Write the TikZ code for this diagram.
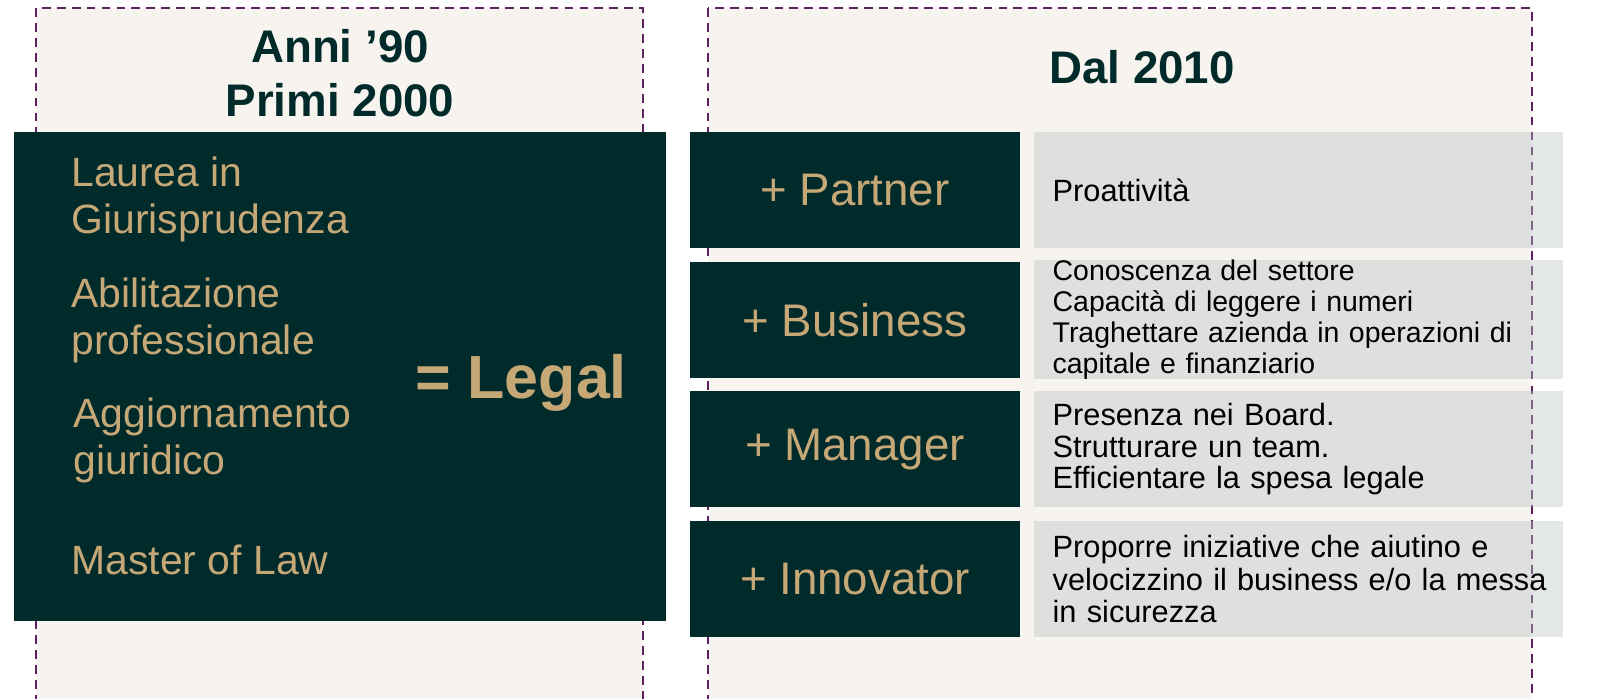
\documentclass[tikz,border=0pt]{standalone}
\usepackage{fontspec}
\setmainfont{Liberation Sans}
\usepackage{xcolor}
\usepackage{tikz}
\usetikzlibrary{
    positioning
}
\definecolor{cream}{HTML}{F7F4EF}
\definecolor{plum}{HTML}{5C2360}
\definecolor{pine}{HTML}{012A2B}
\definecolor{sand}{HTML}{C6A877}
\definecolor{mist}{RGB}{186,194,194}
\tikzset{
  panel/.style = {
      fill=cream,
      draw=plum,
      line width=1.5pt,
      dash pattern=on 5pt off 3.5pt
  },
  heading/.style = {
      font=\fontsize{26}{31}\selectfont\bfseries,
      text=pine,
      align=center
  },
  legalbox/.style = {
      fill=pine,
      minimum width=13.04cm,
      minimum height=9.78cm,
      inner sep=0pt
  },
  oldskill/.style = {
      font=\fontsize{23.3}{26.7}\selectfont,
      text=sand,
      align=left,
      inner sep=0pt,
      anchor=west
  },
  rolebox/.style = {
      fill=pine,
      text=sand,
      minimum width=6.6cm,
      minimum height=2.32cm,
      inner sep=0pt,
      font=\fontsize{26}{31}\selectfont
  },
  skillbox/.style = {
      fill=mist,
      fill opacity=0.4,
      text opacity=1,
      text=black,
      minimum height=2.32cm,
      inner xsep=0.38cm,
      inner ysep=0pt,
      text width=9.82cm,
      align=left,
      font=\fontsize{17.5}{17.9}\selectfont
  }
}

\begin{document}
\begin{tikzpicture}[x=0.02cm, y=-0.02cm, node distance=0.26cm]
    \useasboundingbox (0,0) rectangle (1617,699);
    \clip (0,0) rectangle (1617,699);
    % Panels
    \draw[panel] (36,8) rectangle (643,730);
    \draw[panel] (708,8) rectangle (1532,730);
    \node[heading] (then) at (340,73) {Anni ’90\\Primi 2000};
    \node[heading] (now) at (1142,67) {Dal 2010};
    % Left block
    \node[legalbox] (legacy) at (340,376.5) {};
    \node[oldskill] (degree) at (71,199) {Laurea in\\Giurisprudenza};
    \node[oldskill] (licence) at (71,320) {Abilitazione\\professionale};
    \node[oldskill] (update) at (73,440) {Aggiornamento\\giuridico};
    \node[oldskill] (master) at (71,560) {Master of Law};
    \node[font=\fontsize{34.7}{40}\selectfont\bfseries, text=sand] (legal) at (521,383) {= Legal};
    % Right block
    \node[rolebox] (partner) at (855,190) {+ Partner};
    \node[rolebox, below=of partner] (business) {+ Business};
    \node[rolebox, below=of business] (manager) {+ Manager};
    \node[rolebox, below=of manager] (innovator) {+ Innovator};
    \node[skillbox, right=of partner] (proactive) {Proattività};
    \node[skillbox, right=of business, font=\fontsize{16.2}{17.6}\selectfont] (sector)
        {Conoscenza del settore\\Capacità di leggere i numeri\\Traghettare azienda in operazioni di\\capitale e finanziario};
    \node[skillbox, right=of manager] (board)
        {Presenza nei Board.\\Strutturare un team.\\Efficientare la spesa legale};
    \node[skillbox, right=of innovator, font=\fontsize{17.5}{18.5}\selectfont] (ideas)
        {Proporre iniziative che aiutino e\\\mbox{velocizzino il business e/o la messa}\\in sicurezza};
\end{tikzpicture}
\end{document}
